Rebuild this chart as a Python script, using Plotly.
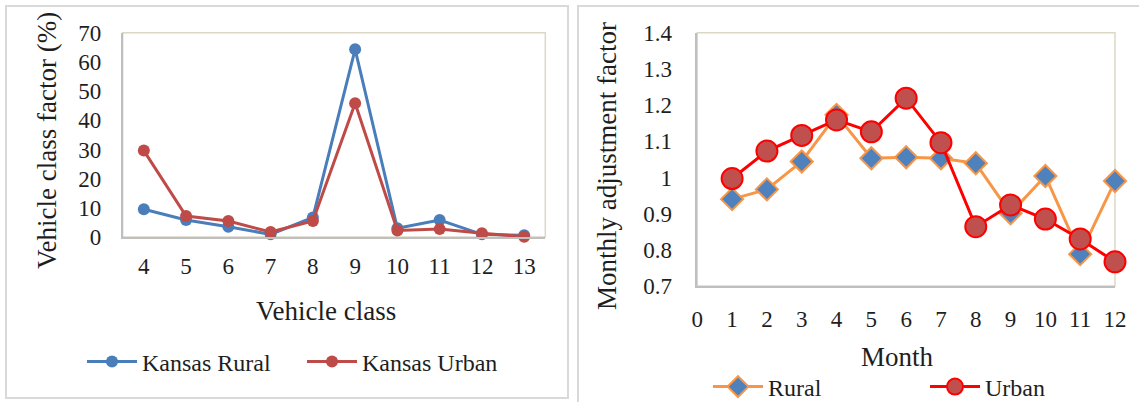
import plotly.graph_objects as go

# Left panel: vehicle class distribution
vehicle_classes = [4, 5, 6, 7, 8, 9, 10, 11, 12, 13]
kansas_rural = [9.5, 5.8, 3.5, 0.9, 6.7, 64.3, 3.0, 5.8, 0.9, 0.6]
kansas_urban = [29.6, 7.2, 5.5, 1.7, 5.5, 45.8, 2.2, 2.7, 1.3, 0.1]
class_ticks = [0, 10, 20, 30, 40, 50, 60, 70]

# Right panel: monthly adjustment factors
months = [1, 2, 3, 4, 5, 6, 7, 8, 9, 10, 11, 12]
rural_factor = [0.940, 0.967, 1.044, 1.173, 1.053, 1.056, 1.053, 1.039, 0.901, 1.004, 0.788, 0.990]
urban_factor = [0.997, 1.073, 1.116, 1.159, 1.126, 1.219, 1.096, 0.864, 0.924, 0.885, 0.830, 0.767]
month_ticks = [0, 1, 2, 3, 4, 5, 6, 7, 8, 9, 10, 11, 12]
factor_ticks = [0.7, 0.8, 0.9, 1.0, 1.1, 1.2, 1.3, 1.4]
factor_labels = ["0.7", "0.8", "0.9", "1", "1.1", "1.2", "1.3", "1.4"]

W, H = 1139, 402
SERIF = "Liberation Serif"
TXT = "#1e1e1e"
AXIS_GRAY = "#BFBFBF"
BOX_TAN = "#DDD8C6"
FRAME = "#D9D9D9"
NO_TICK = "rgba(0,0,0,0)"


def px(x):
    return x / W


def py(y):
    return 1 - y / H


fig = go.Figure()

fig.add_trace(go.Scatter(
    x=vehicle_classes, y=kansas_rural, name="Kansas Rural", mode="lines+markers",
    line=dict(color="#4A7EBB", width=3), marker=dict(symbol="circle", size=12, color="#4A7EBB"),
    xaxis="x", yaxis="y", cliponaxis=False, legend="legend"))
fig.add_trace(go.Scatter(
    x=vehicle_classes, y=kansas_urban, name="Kansas Urban", mode="lines+markers",
    line=dict(color="#BE4B48", width=3), marker=dict(symbol="circle", size=12, color="#BE4B48"),
    xaxis="x", yaxis="y", cliponaxis=False, legend="legend2"))

fig.add_trace(go.Scatter(
    x=months, y=rural_factor, name="Rural", mode="lines+markers",
    line=dict(color="#F79646", width=3),
    marker=dict(symbol="diamond", size=17, color="#4F81BD", line=dict(color="#F79646", width=2)),
    xaxis="x2", yaxis="y2", cliponaxis=False, legend="legend3"))
fig.add_trace(go.Scatter(
    x=months, y=urban_factor, name="Urban", mode="lines+markers",
    line=dict(color="#FF0000", width=3),
    marker=dict(symbol="circle", size=21, color="#C0504D", line=dict(color="#FF0000", width=2)),
    xaxis="x2", yaxis="y2", cliponaxis=False, legend="legend4"))

tickfont = dict(family=SERIF, size=23, color=TXT)
legfont = dict(family=SERIF, size=24, color=TXT)

L_X0, L_X1 = px(122.7), px(545.3)
R_X0, R_X1 = px(697.3), px(1115)
TOP = py(32.7)
L_BOT, R_BOT = py(237), py(286)

common_axis = dict(showgrid=False, zeroline=False, showline=True, linecolor=AXIS_GRAY,
                   linewidth=1.5, ticks="outside", tickcolor=NO_TICK, tickfont=tickfont)

fig.update_layout(
    width=W, height=H, margin=dict(l=0, r=0, t=0, b=0, autoexpand=False),
    paper_bgcolor="white", plot_bgcolor="white",
    xaxis=dict(domain=[L_X0, L_X1], range=[3.5, 13.5], tickvals=vehicle_classes,
               ticklen=8, anchor="y", **common_axis),
    yaxis=dict(domain=[L_BOT, TOP], range=[0, 70], tickvals=class_ticks,
               ticklen=15, anchor="x", **common_axis),
    xaxis2=dict(domain=[R_X0, R_X1], range=[0, 12], tickvals=month_ticks,
                ticklen=12, anchor="y2", **common_axis),
    yaxis2=dict(domain=[R_BOT, TOP], range=[0.7, 1.4], tickvals=factor_ticks,
                ticktext=factor_labels, ticklen=19, anchor="x2", **common_axis),
    showlegend=True,
)

legend_spots = {
    "legend": (82, 362),
    "legend2": (302, 362),
    "legend3": (708, 387),
    "legend4": (925, 387),
}
for key, (lx, ly) in legend_spots.items():
    fig.update_layout({key: dict(x=px(lx), y=py(ly), xanchor="left", yanchor="middle",
                                 orientation="h", itemwidth=50, font=legfont,
                                 bgcolor="rgba(0,0,0,0)", borderwidth=0)})

# Panel frames and plot-area borders
shapes = [
    dict(type="rect", xref="paper", yref="paper", x0=px(6), x1=px(568), y0=py(398), y1=py(6),
         line=dict(color=FRAME, width=2), layer="below"),
    dict(type="rect", xref="paper", yref="paper", x0=px(578), x1=px(1150), y0=py(420), y1=py(6),
         line=dict(color=FRAME, width=2), layer="below"),
    dict(type="rect", xref="paper", yref="paper", x0=L_X0, x1=L_X1, y0=L_BOT, y1=TOP,
         line=dict(color=BOX_TAN, width=1.5), layer="below"),
    dict(type="rect", xref="paper", yref="paper", x0=R_X0, x1=R_X1, y0=R_BOT, y1=TOP,
         line=dict(color=BOX_TAN, width=1.5), layer="below"),
]
fig.update_layout(shapes=shapes)

titlefont = dict(family=SERIF, size=27, color=TXT)
annotations = [
    dict(text="Vehicle class factor (%)", x=px(47), y=py(141), textangle=-90),
    dict(text="Vehicle class", x=px(326), y=py(311), textangle=0),
    dict(text="Monthly adjustment factor", x=px(607), y=py(166), textangle=-90),
    dict(text="Month", x=px(897), y=py(357), textangle=0),
]
for a in annotations:
    fig.add_annotation(xref="paper", yref="paper", xanchor="center", yanchor="middle",
                       showarrow=False, font=titlefont, **a)

fig.write_html("out.html")
